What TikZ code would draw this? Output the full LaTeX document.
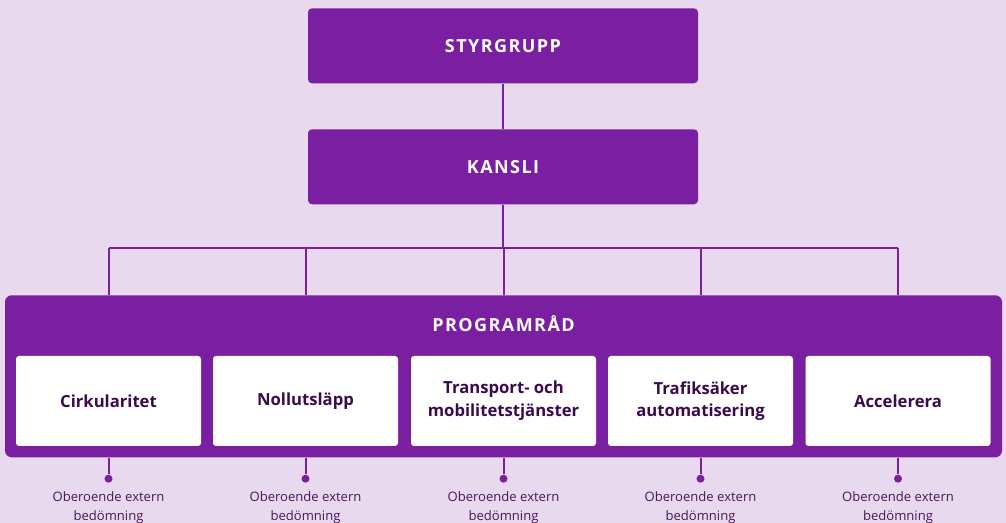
\documentclass[tikz,border=0pt]{standalone}
\usepackage{fontspec}
\setmainfont{Open Sans}
\usepackage{tikz}
\usetikzlibrary{calc}
\definecolor{bgpurple}{RGB}{232,217,238}
\definecolor{mainpurple}{RGB}{123,31,162}
\definecolor{darkpurple}{RGB}{58,10,78}
\definecolor{notepurple}{RGB}{72,24,92}
\newcommand{\widthlevel}{292.5pt}
\newcommand{\heightlevel}{56.25pt}
\newcommand{\widtharea}{138.75pt}
\newcommand{\heightarea}{67.5pt}
\newcommand{\widthprog}{747.75pt}
\newcommand{\heightprog}{121.5pt}
\tikzset{
    common/.style={rectangle, inner sep=0pt, align=center},
    level/.style={common, fill=mainpurple, rounded corners=3pt, minimum width=\widthlevel, minimum height=\heightlevel,
        text=white, font={\fontsize{13.5}{16}\selectfont\bfseries\addfontfeature{LetterSpace=8}}},
    prog/.style={common, fill=mainpurple, rounded corners=5pt, minimum width=\widthprog, minimum height=\heightprog},
    progtitle/.style={common, text=white, font={\fontsize{13.5}{16}\selectfont\bfseries\addfontfeature{LetterSpace=8}}},
    area/.style={common, fill=white, rounded corners=2.25pt, minimum width=\widtharea, minimum height=\heightarea,
        text=darkpurple, font={\fontsize{12.5}{17}\selectfont\bfseries}},
    link/.style={mainpurple, line width=1.5pt},
    dot/.style={circle, fill=mainpurple, inner sep=0pt, minimum size=6pt},
    note/.style={common, text=notepurple, font={\fontsize{9.8}{14.25}\selectfont}}
}

\begin{document}
\begin{tikzpicture}[x=0.75pt, y=-0.75pt]
    \fill[bgpurple] (0,0) rectangle (1006,523);
    \useasboundingbox (0,0) rectangle (1006,523);

    \node[level] (styr) at (503,45.8) {STYRGRUPP};
    \node[level] (kansli) at (503,166.8) {KANSLI};
    \coordinate (bar) at (503,248.3);

    \node[prog] (prog) at (503.5,376.3) {};
    \node[progtitle] (progtitle) at (503.5,324) {PROGRAMRÅD};

    \node[area] (cirk) at (108.5,401) {Cirkularitet};
    \node[area] (noll) at (305.5,401) {Nollutsläpp};
    \node[area] (trans) at (503.5,401) {Transport- och\\mobilitetstjänster};
    \node[area] (trafik) at (700.5,401) {Trafiksäker\\automatisering};
    \node[area] (acc) at (898,401) {Accelerera};

    \node[dot] (cirkdot) at (108.5,478.7) {};
    \node[dot] (nolldot) at (305.5,478.7) {};
    \node[dot] (transdot) at (503.5,478.7) {};
    \node[dot] (trafikdot) at (700.5,478.7) {};
    \node[dot] (accdot) at (898,478.7) {};

    \node[note] (cirknote) at (108.5,508) {Oberoende extern\\bedömning};
    \node[note] (nollnote) at (305.5,508) {Oberoende extern\\bedömning};
    \node[note] (transnote) at (503.5,508) {Oberoende extern\\bedömning};
    \node[note] (trafiknote) at (700.5,508) {Oberoende extern\\bedömning};
    \node[note] (accnote) at (898,508) {Oberoende extern\\bedömning};

    \draw[link] (styr) -- (kansli);
    \draw[link] (kansli.south) -- (bar);
    \draw[link] (cirk |- bar) -- (acc |- bar);
    \draw[link] (cirk |- bar) -- (cirk |- prog.north) (noll |- bar) -- (noll |- prog.north)
        (trans |- bar) -- (trans |- prog.north) (trafik |- bar) -- (trafik |- prog.north)
        (acc |- bar) -- (acc |- prog.north);
    \draw[link] (cirk |- prog.south) -- (cirkdot) (noll |- prog.south) -- (nolldot)
        (trans |- prog.south) -- (transdot) (trafik |- prog.south) -- (trafikdot)
        (acc |- prog.south) -- (accdot);

\end{tikzpicture}
\end{document}
